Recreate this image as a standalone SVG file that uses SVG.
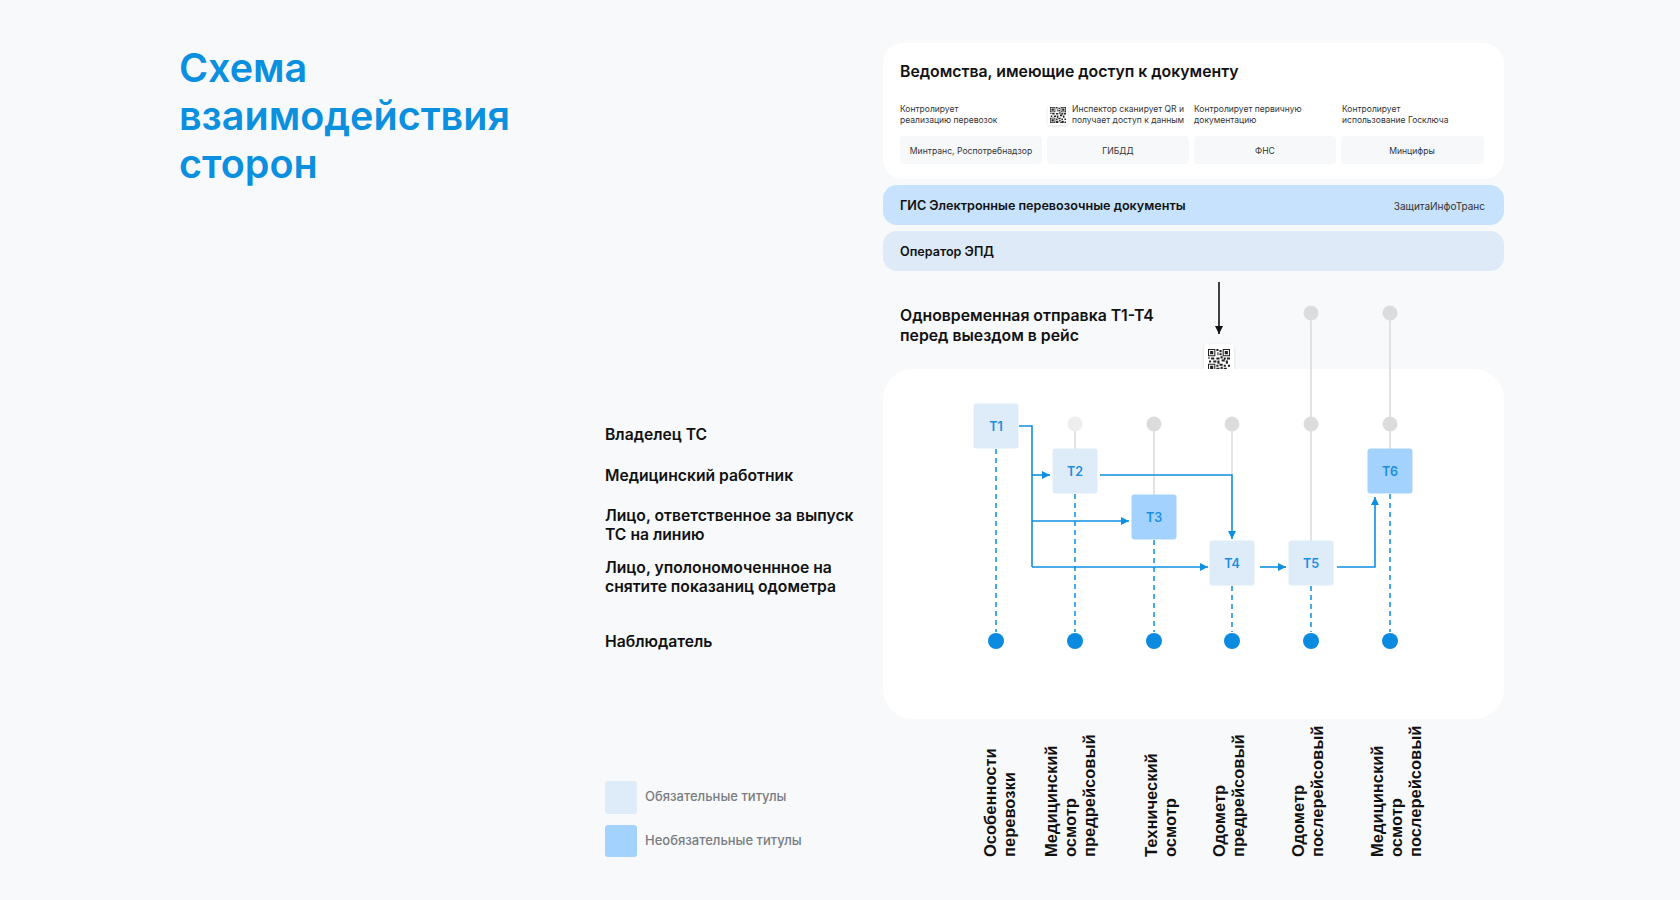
<svg xmlns="http://www.w3.org/2000/svg" width="1680" height="900" viewBox="0 0 1680 900">
<defs>
<style>
.ui{font-family:Inter,"Noto Sans","Liberation Sans",sans-serif}
.h1{font-size:39.5px;font-weight:600;fill:#0b8fdf}
.hd{font-size:15.8px;font-weight:600;fill:#111}
.sm{font-size:8.5px;fill:#333}
.bx{font-size:8.6px;fill:#333;text-anchor:middle}
.bar{font-size:12.6px;font-weight:600;fill:#111}
.role{font-size:15.7px;font-weight:600;fill:#111}
.leg{font-size:13px;font-weight:500;fill:#7a7d82}
.tl{font-size:12.5px;font-weight:600;fill:#1a8ee0;text-anchor:middle}
.col{font-family:"Liberation Sans",Arial,sans-serif;font-size:16.5px;font-weight:700;fill:#111}
.req{fill:#deebf8}
.opt{fill:#a3d2fe}
.gl{stroke:#dadada;stroke-width:1.5;fill:none}
.bl{stroke:#0f8fe0;stroke-width:1.6;fill:none}
.dl{stroke:#1a95e6;stroke-width:1.6;stroke-dasharray:5 4;fill:none}
.od{fill:#0a8be0}
.gd{fill:#dcdcdc}
</style>
<marker id="ab" viewBox="0 0 10 10" refX="10" refY="5" markerWidth="8" markerHeight="8" markerUnits="userSpaceOnUse" orient="auto"><path d="M0,0 L10,5 L0,10 z" fill="#0f8fe0"/></marker>
<marker id="ak" viewBox="0 0 10 10" refX="10" refY="5" markerWidth="8" markerHeight="8" markerUnits="userSpaceOnUse" orient="auto"><path d="M0,0 L10,5 L0,10 z" fill="#111"/></marker>
<symbol id="qr" viewBox="0 0 21 21">
<path fill="#222" fill-rule="evenodd" d="M0 0h7v7h-7z M1 1v5h5v-5z M14 0h7v7h-7z M15 1v5h5v-5z M0 14h7v7h-7z M1 15v5h5v-5z"/>
<path fill="#222" d="M2 2h3v3h-3z M16 2h3v3h-3z M2 16h3v3h-3z M8 0h2v2h-2z M11 1h2v2h-2z M9 3h1v3h-1z M11 4h2v2h-2z M0 8h2v1h-2z M3 8h3v2h-3z M8 8h3v2h-3z M12 7h2v2h-2z M15 8h2v2h-2z M18 8h3v2h-3z M1 11h2v2h-2z M5 11h3v2h-3z M9 11h2v3h-2z M13 10h3v2h-3z M17 11h2v3h-2z M8 15h2v2h-2z M11 14h3v2h-3z M15 15h2v2h-2z M19 15h2v2h-2z M8 18h3v3h-3z M12 17h2v2h-2z M15 18h3v3h-3z M19 19h2v2h-2z M13 20h2v1h-2z"/>
</symbol>
<filter id="sh" x="-30%" y="-30%" width="160%" height="160%"><feDropShadow dx="0" dy="1" stdDeviation="1.5" flood-color="#000" flood-opacity="0.12"/></filter>
</defs>

<rect width="1680" height="900" fill="#f7f9fb"/>

<g id="title" class="ui">
<text class="h1" x="179" y="82">Схема</text>
<text class="h1" x="179" y="130">взаимодействия</text>
<text class="h1" x="179" y="178">сторон</text>
</g>

<g id="agencies" class="ui">
<rect x="883" y="43" width="621" height="136" rx="20" fill="#fff"/>
<text class="hd" x="900" y="77">Ведомства, имеющие доступ к документу</text>
<text class="sm" x="900" y="112">Контролирует</text>
<text class="sm" x="900" y="123">реализацию перевозок</text>
<rect x="1048" y="105" width="20" height="20" rx="2" fill="#fff" filter="url(#sh)"/>
<use href="#qr" x="1050" y="107" width="16" height="16"/>
<text class="sm" x="1072" y="112">Инспектор сканирует QR и</text>
<text class="sm" x="1072" y="123">получает доступ к данным</text>
<text class="sm" x="1194" y="112">Контролирует первичную</text>
<text class="sm" x="1194" y="123">документацию</text>
<text class="sm" x="1342" y="112">Контролирует</text>
<text class="sm" x="1342" y="123">использование Госключа</text>
<rect x="900" y="136" width="142" height="28" rx="4" fill="#f6f8fa"/>
<rect x="1047" y="136" width="142" height="28" rx="4" fill="#f6f8fa"/>
<rect x="1194" y="136" width="142" height="28" rx="4" fill="#f6f8fa"/>
<rect x="1341" y="136" width="143" height="28" rx="4" fill="#f6f8fa"/>
<text class="bx" x="971" y="153.5">Минтранс, Роспотребнадзор</text>
<text class="bx" x="1118" y="153.5">ГИБДД</text>
<text class="bx" x="1265" y="153.5">ФНС</text>
<text class="bx" x="1412" y="153.5">Минцифры</text>
</g>

<g id="gis" class="ui">
<rect x="883" y="185" width="621" height="40" rx="14" fill="#c6e2fc"/>
<text class="bar" x="900" y="210">ГИС Электронные перевозочные документы</text>
<text class="sm" x="1485" y="210" text-anchor="end" style="font-size:10px">ЗащитаИнфоТранс</text>
</g>

<g id="operator" class="ui">
<rect x="883" y="231" width="621" height="40" rx="14" fill="#deeaf7"/>
<text class="bar" x="900" y="256">Оператор ЭПД</text>
</g>

<g id="send-note" class="ui">
<text class="hd" x="900" y="321">Одновременная отправка Т1-Т4</text>
<text class="hd" x="900" y="341">перед выездом в рейс</text>
</g>

<g id="qr-code">
<rect x="1204" y="344" width="30" height="32" rx="4" fill="#fff" filter="url(#sh)"/>
<use href="#qr" x="1208" y="349" width="22" height="22"/>
</g>

<g id="flow-panel">
<rect x="883" y="369" width="621" height="350" rx="30" fill="#fff"/>
</g>

<g id="connectors">
<path class="bl" d="M1219,282 V334" style="stroke:#111" marker-end="url(#ak)"/>
<path class="gl" d="M1311,313 V541"/>
<path class="gl" d="M1390,313 V449"/>
<path class="gl" d="M1075,424 V449"/>
<path class="gl" d="M1154,424 V495"/>
<path class="gl" d="M1232,424 V475"/>
<path class="dl" d="M996,440 V632"/>
<path class="dl" d="M1075,485 V632"/>
<path class="dl" d="M1154,531 V632"/>
<path class="dl" d="M1232,577 V632"/>
<path class="dl" d="M1311,577 V632"/>
<path class="dl" d="M1390,485 V632"/>
<path class="bl" d="M1019,426 H1032 V567"/>
<path class="bl" d="M1032,475 H1050" marker-end="url(#ab)"/>
<path class="bl" d="M1032,521 H1129" marker-end="url(#ab)"/>
<path class="bl" d="M1032,567 H1208" marker-end="url(#ab)"/>
<path class="bl" d="M1100,475 H1232 V539" marker-end="url(#ab)"/>
<path class="bl" d="M1260,567 H1286" marker-end="url(#ab)"/>
<path class="bl" d="M1337,567 H1375 V497" marker-end="url(#ab)"/>
</g>

<g id="top-dots">
<circle class="gd" cx="1311" cy="313" r="7.5"/>
<circle class="gd" cx="1390" cy="313" r="7.5"/>
<circle cx="1075" cy="424" r="7.5" fill="#eeeeee"/>
<circle class="gd" cx="1154" cy="424" r="7.5"/>
<circle class="gd" cx="1232" cy="424" r="7.5"/>
<circle class="gd" cx="1311" cy="424" r="7.5"/>
<circle class="gd" cx="1390" cy="424" r="7.5"/>
</g>

<g id="T1" class="ui"><rect class="req" x="973.5" y="403.5" width="45" height="45" rx="3"/><text class="tl" x="996" y="431">Т1</text></g>
<g id="T2" class="ui"><rect class="req" x="1052.5" y="448.5" width="45" height="45" rx="3"/><text class="tl" x="1075" y="476">Т2</text></g>
<g id="T3" class="ui"><rect class="opt" x="1131.5" y="494.5" width="45" height="45" rx="3"/><text class="tl" x="1154" y="522">Т3</text></g>
<g id="T4" class="ui"><rect class="req" x="1209.5" y="540.5" width="45" height="45" rx="3"/><text class="tl" x="1232" y="568">Т4</text></g>
<g id="T5" class="ui"><rect class="req" x="1288.5" y="540.5" width="45" height="45" rx="3"/><text class="tl" x="1311" y="568">Т5</text></g>
<g id="T6" class="ui"><rect class="opt" x="1367.5" y="448.5" width="45" height="45" rx="3"/><text class="tl" x="1390" y="476">Т6</text></g>

<g id="observer-dots">
<circle class="od" cx="996" cy="641" r="8"/>
<circle class="od" cx="1075" cy="641" r="8"/>
<circle class="od" cx="1154" cy="641" r="8"/>
<circle class="od" cx="1232" cy="641" r="8"/>
<circle class="od" cx="1311" cy="641" r="8"/>
<circle class="od" cx="1390" cy="641" r="8"/>
</g>

<g id="roles" class="ui">
<text class="role" x="605" y="440">Владелец ТС</text>
<text class="role" x="605" y="481">Медицинский работник</text>
<text class="role" x="605" y="521">Лицо, ответственное за выпуск</text>
<text class="role" x="605" y="540">ТС на линию</text>
<text class="role" x="605" y="573">Лицо, уполономоченнное на</text>
<text class="role" x="605" y="592">снятите показаниц одометра</text>
<text class="role" x="605" y="647">Наблюдатель</text>
</g>

<g id="legend" class="ui">
<rect class="req" x="605" y="781" width="32" height="33" rx="3"/>
<text class="leg" x="645" y="801">Обязательные титулы</text>
<rect class="opt" x="605" y="825" width="32" height="32" rx="3"/>
<text class="leg" x="645" y="845">Необязательные титулы</text>
</g>

<g id="column-labels">
<text class="col" transform="translate(996,857) rotate(-90)"><tspan x="0" y="0">Особенности</tspan><tspan x="0" y="19">перевозки</tspan></text>
<text class="col" transform="translate(1057,857) rotate(-90)"><tspan x="0" y="0">Медицинский</tspan><tspan x="0" y="19">осмотр</tspan><tspan x="0" y="38">предрейсовый</tspan></text>
<text class="col" transform="translate(1157,857) rotate(-90)"><tspan x="0" y="0">Технический</tspan><tspan x="0" y="19">осмотр</tspan></text>
<text class="col" transform="translate(1225,857) rotate(-90)"><tspan x="0" y="0">Одометр</tspan><tspan x="0" y="19">предрейсовый</tspan></text>
<text class="col" transform="translate(1304,857) rotate(-90)"><tspan x="0" y="0">Одометр</tspan><tspan x="0" y="19">послерейсовый</tspan></text>
<text class="col" transform="translate(1383,857) rotate(-90)"><tspan x="0" y="0">Медицинский</tspan><tspan x="0" y="19">осмотр</tspan><tspan x="0" y="38">послерейсовый</tspan></text>
</g>
</svg>
